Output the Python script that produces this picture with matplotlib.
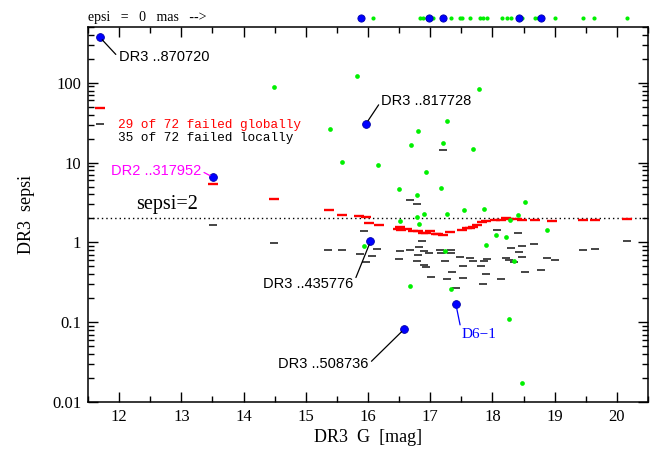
import matplotlib
matplotlib.use("Agg")
import matplotlib.pyplot as plt
from matplotlib.ticker import MultipleLocator, LogLocator, FuncFormatter, NullFormatter

# ---- data -------------------------------------------------------------
# sources with epsi = 0 mas, shown in the strip above the frame
top_blue_mag = [15.88, 16.98, 17.20, 18.43, 18.78]
top_green_mag = [16.08, 16.84, 16.89, 16.95, 17.04, 17.34, 17.48, 17.51, 17.64,
                 17.80, 17.85, 17.91, 18.16, 18.24, 18.30, 18.48, 18.68, 18.73,
                 19.00, 19.46, 19.64, 20.17]

# DR3 sepsi of individual sources
green_mag = [14.49, 15.83, 17.79, 15.39, 17.27, 16.81, 16.69, 17.21, 17.68, 15.58,
             16.16, 16.94, 16.50, 17.18, 16.79, 18.52, 17.54, 17.86, 16.90, 17.27,
             16.78, 18.41, 16.51, 16.82, 18.28, 18.88, 18.05, 18.22, 17.90, 15.94,
             17.24, 18.34, 16.67, 17.33, 18.27, 18.47]
green_sepsi = [88, 123, 84, 26.7, 33, 24.7, 16.8, 17.6, 15.0, 10.2,
               9.4, 7.7, 4.67, 4.81, 3.97, 3.24, 2.58, 2.65, 2.30, 2.30,
               2.07, 2.23, 1.84, 1.69, 1.91, 1.43, 1.24, 1.17, 0.94, 0.89,
               0.77, 0.58, 0.284, 0.258, 0.110, 0.0173]

# named sources
named_ids = ["DR3 ..870720", "DR2 ..317952", "DR3 ..817728",
             "DR3 ..435776", "DR3 ..508736", "D6\u22121"]
named_mag = [11.69, 13.51, 15.97, 16.04, 16.58, 17.41]
named_sepsi = [372, 6.55, 30.8, 1.03, 0.0815, 0.171]

# global (red) and local (black) sepsi thresholds
red_mag = [11.70, 13.51, 14.49, 15.38, 15.58, 15.85, 15.97, 16.02, 16.17, 16.51,
           16.53, 16.62, 16.81, 16.89, 16.94, 17.10, 17.20, 17.32, 17.51, 17.64,
           17.75, 17.83, 17.90, 18.04, 18.13, 18.22, 18.27, 18.39, 18.47, 18.68,
           18.95, 19.46, 19.65, 20.17, 16.49, 16.73, 17.00, 17.13, 17.59, 17.69]
red_sepsi = [48.9, 5.35, 3.50, 2.52, 2.18, 2.12, 2.10, 1.75, 1.66, 1.58,
             1.42, 1.49, 1.40, 1.30, 1.31, 1.26, 1.23, 1.35, 1.42, 1.50,
             1.67, 1.78, 1.86, 1.93, 1.91, 2.00, 1.98, 1.94, 1.89, 1.93,
             1.85, 1.89, 1.89, 1.95, 1.46, 1.38, 1.38, 1.26, 1.50, 1.55]

blk_mag = [11.70, 13.51, 14.49, 15.36, 15.58, 15.94, 16.14, 15.87, 16.06, 15.97,
           16.68, 16.79, 17.21, 16.86, 16.82, 16.51, 16.68, 16.90, 16.98, 16.81,
           17.16, 17.33, 17.17, 17.33, 16.50, 16.79, 17.23, 17.48, 17.64, 17.69,
           17.86, 17.91, 16.90, 16.94, 17.53, 17.81, 17.35, 17.89, 17.01, 17.52,
           17.27, 18.14, 17.85, 17.41, 18.07, 18.41, 18.30, 18.43, 18.47, 18.67,
           18.47, 18.21, 18.26, 18.34, 18.52, 18.78, 18.87, 19.01, 19.45, 19.65,
           20.17]
blk_sepsi = [30.2, 1.67, 0.99, 0.80, 0.81, 1.38, 0.82, 0.72, 0.68, 0.563,
             3.37, 3.0, 14.3, 1.05, 0.88, 0.79, 0.80, 0.79, 0.74, 0.69,
             0.80, 0.80, 0.74, 0.74, 0.614, 0.59, 0.58, 0.66, 0.63, 0.59,
             0.59, 0.62, 0.52, 0.49, 0.50, 0.51, 0.42, 0.40, 0.37, 0.36,
             0.345, 0.35, 0.298, 0.27, 1.44, 1.31, 0.84, 0.76, 0.90, 0.96,
             0.66, 0.64, 0.60, 0.56, 0.42, 0.45, 0.64, 0.60, 0.80, 0.83,
             1.04]

sepsi_limit = 2
n_total = 72
n_fail_global = 29
n_fail_local = 35

# ---- styling of the named-source labels --------------------------------
# (colour, font family, font size, text offset in points, ha, line attach point)
label_style = [
    ("black",   "Liberation Sans",  10.5, (13.5, -14.5), "left",  (0.0, 0.5)),
    ("#ff00ff", "Liberation Sans",  10.5, (-8.5, 4.5),   "right", (1.0, 0.5)),
    ("black",   "Liberation Sans",  10.5, (11.0, 16.5),  "left",  (0.0, 0.5)),
    ("black",   "Liberation Sans",  10.5, (-12.5, -31.0), "right", (1.0, 0.5)),
    ("black",   "Liberation Sans",  10.5, (-25.5, -25.0), "right", (1.0, 0.5)),
    ("#0000ff", "Liberation Serif", 11.0, (4.5, -22.0),  "left",  (0.0, 0.5)),
]

SERIF = "Liberation Serif"
BLUE = "#0000ff"
GREEN = "#00f000"
RED = "#ff0000"

fig = plt.figure(figsize=(6.5, 4.5), dpi=100)
ax = fig.add_axes([88 / 650, 48 / 450, 560 / 650, 375 / 450])

ax.set_yscale("log")
ax.set_xlim(11.5, 20.5)
ax.set_ylim(0.01, 500)

# threshold dashes
ax.plot(blk_mag, blk_sepsi, ls="none", marker="_", ms=5.6, mew=1.2,
        color="0.15", zorder=2)
ax.plot(red_mag, red_sepsi, ls="none", marker="_", ms=6.5, mew=1.7,
        color=RED, zorder=3)

# sepsi = 2 line
ax.axhline(sepsi_limit, color="black", lw=1.0, ls=(0, (1, 2.2)), zorder=1)
ax.text(12.28, 2.25, f"sepsi={sepsi_limit}", fontsize=14.5, family=SERIF,
        ha="left", va="bottom")

# sources
ax.plot(green_mag, green_sepsi, ls="none", marker="o", ms=3.4, mew=0,
        color=GREEN, zorder=4)
ax.plot(named_mag, named_sepsi, ls="none", marker="o", ms=5.6, mew=0.6,
        mfc=BLUE, mec="#0000aa", zorder=5)

for name, m, s, st in zip(named_ids, named_mag, named_sepsi, label_style):
    col, fam, fs, off, ha, rel = st
    ax.annotate(name, xy=(m, s), xytext=off, textcoords="offset points",
                ha=ha, va="center", fontsize=fs, family=fam, color=col,
                arrowprops=dict(arrowstyle="-", color=col, lw=0.9,
                                shrinkA=0, shrinkB=2.5, relpos=rel),
                zorder=6)

# counts of failures
ax.text(11.99, 30.0, f"{n_fail_global} of {n_total} failed globally",
        color=RED, family="Liberation Mono", fontsize=9.2, va="center")
ax.text(11.99, 20.4, f"{n_fail_local} of {n_total} failed locally",
        color="black", family="Liberation Mono", fontsize=9.2, va="center")

# epsi = 0 strip above the frame
strip = ax.get_xaxis_transform()
ax.plot(top_green_mag, [1.024] * len(top_green_mag), ls="none", marker="o",
        ms=3.0, mew=0, color=GREEN, transform=strip, clip_on=False, zorder=4)
ax.plot(top_blue_mag, [1.024] * len(top_blue_mag), ls="none", marker="o",
        ms=5.2, mew=0.6, mfc=BLUE, mec="#0000aa", transform=strip,
        clip_on=False, zorder=5)
fig.text(88 / 650, 1 - 18 / 450, "epsi   =   0   mas   -->", family=SERIF,
         fontsize=10, ha="left", va="center")

# axes, ticks and labels
ax.xaxis.set_major_locator(MultipleLocator(1))
ax.xaxis.set_minor_locator(MultipleLocator(0.5))
ax.yaxis.set_major_locator(LogLocator(base=10, numticks=10))
ax.yaxis.set_minor_locator(LogLocator(base=10, subs=range(2, 10), numticks=20))
ax.yaxis.set_minor_formatter(NullFormatter())
ax.yaxis.set_major_formatter(FuncFormatter(lambda v, p: f"{v:g}"))

ax.tick_params(which="both", direction="in", top=True, right=True,
               width=1.0, labelsize=12)
ax.tick_params(which="major", length=7.5)
ax.tick_params(which="minor", length=4.2)
ax.tick_params(axis="x", which="major", pad=5)
ax.tick_params(axis="y", which="major", pad=5)
for lab in ax.get_xticklabels() + ax.get_yticklabels():
    lab.set_family(SERIF)
for sp in ax.spines.values():
    sp.set_linewidth(1.1)

ax.set_xlabel("DR3  G  [mag]", family=SERIF, fontsize=13, labelpad=3)
ax.set_ylabel("DR3  sepsi", family=SERIF, fontsize=13, labelpad=12)

fig.savefig("out.png", dpi=100)
